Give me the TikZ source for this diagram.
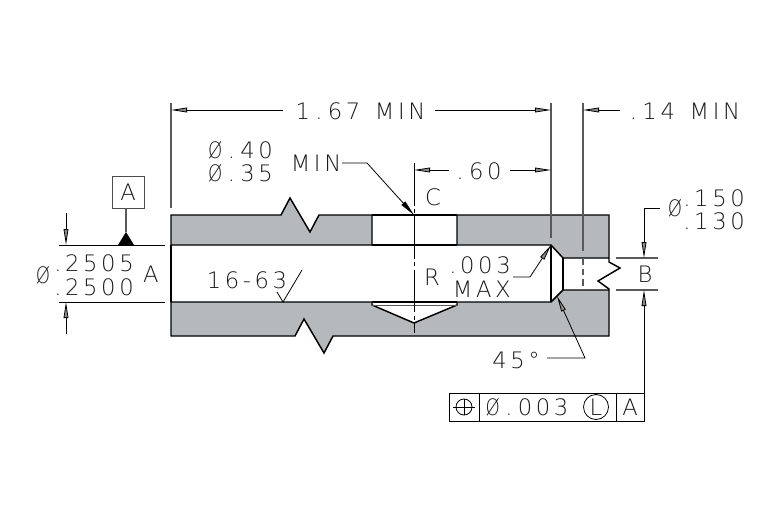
\documentclass[tikz,border=0pt]{standalone}
\usepackage{graphicx}
\usepackage{fontspec}
\setmainfont{Liberation Sans}
\newfontfamily\dimfont[LetterSpace=16]{DejaVu Sans ExtraLight}
\usetikzlibrary{arrows.meta}
\definecolor{partgray}{HTML}{B6B9BB}
\definecolor{inkgray}{HTML}{1A1A1A}
\newcommand{\Dt}{\kern4pt.\kern4pt}
\newcommand{\Dl}{.\kern4pt}
\newcommand{\Wg}{\kern11pt}
\newcommand{\Sl}{\scalebox{.8}[1]{Ø}}
\tikzset{
  x=0.75pt,y=-0.75pt,
  outline/.style={draw=black,line width=1.1pt,line join=miter},
  thin line/.style={draw=black,line width=0.6pt},
  ext line/.style={draw=black!65,line width=0.8pt},
  dimtip/.style={-{Triangle[open,length=12pt,width=3.6pt,fill=black!45]}},
  leadtip/.style={-{Triangle[length=12pt,width=3.8pt]}},
  label text/.style={inner sep=0pt,text=inkgray,font=\dimfont\fontsize{17}{17}\selectfont},
}
\begin{document}
\begin{tikzpicture}
\useasboundingbox (0,0) rectangle (780,520);
\fill[white] (0,0) rectangle (780,520);
% part sections
\path[outline,fill=partgray] (171,215)--(281,215)--(290,198)--(310,232)--(319,215)--(372,215)--(372,245)--(171,245)--cycle;
\path[outline,fill=partgray] (457,245)--(457,215)--(609,215)--(609,258)--(563,258)--(551,245)--cycle;
\path[outline,fill=partgray] (171,302)--(372,302)--(372,305)--(414,323)--(457,305)--(457,302)--(551,302)--(563,290)--(609,290)--(609,336)--(333,336)--(324,353)--(304,319)--(295,336)--(171,336)--cycle;
% hole walls and bore
\path[outline] (171,245)--(171,302);
\path[outline] (372,215)--(457,215);
\path[outline] (372,245)--(457,245);
\path[outline] (372,302)--(457,302);
\path[ext line,line width=0.5pt] (372,305)--(457,305);
\path[outline] (551,245)--(551,302);
\path[outline] (563,258)--(563,290);
\path[outline] (609,258)--(609,262)--(620,268)--(598,281)--(609,289)--(609,290);
% centre line
\path[thin line,dash pattern=on 32pt off 2.5pt on 3pt off 2.5pt] (414,163)--(414,333);
% extension lines
\path[ext line] (171,103)--(171,208);
\path[ext line] (551,103)--(551,238);
\path[ext line] (583,103)--(583,251);
\path[ext line,dashed,dash pattern=on 5pt off 3pt] (583,258)--(583,290);
\path[thin line] (59,245)--(165,245);
\path[thin line] (59,302)--(165,302);
\path[ext line] (616,258)--(658,258);
\path[ext line] (616,290)--(658,290);
% text
\node[label text] (t167) at (360.5,111) {1\Dt 67\Wg MIN};
\node[label text] (t14) at (685,111) {\Dl 14\Wg MIN};
\node[label text] (t60) at (479,171) {\Dl 60};
\node[label text] (tC) at (433,197) {C};
\node[label text] (tMIN) at (316,163) {MIN};
\node[label text] (t40) at (240.5,150) {\Sl\Dt 40};
\node[label text] (t35) at (240.5,173) {\Sl\Dt 35};
\node[label text] (tdia) at (675,208) {\Sl};
\node[label text,anchor=east] (t150) at (745,198) {.150};
\node[label text,anchor=east] (t130) at (745,221) {.130};
\node[label text] (tB) at (645,274) {B};
\node[label text] (tdiaA) at (43,275) {\Sl};
\node[label text,anchor=east] (t2505) at (134,263) {.2505};
\node[label text,anchor=east] (t2500) at (134,287) {.2500};
\node[label text] (tA) at (151,274) {A};
\node[label text] (tsurf) at (247,280) {16-63};
\node[label text] (tR) at (432,277) {R};
\node[label text,anchor=east] (t003) at (511,265) {.003};
\node[label text,anchor=east] (tMAX) at (511,289) {MAX};
\node[label text] (t45) at (516,360) {45°};
% dimension lines
\coordinate (d1) at (171,110); \coordinate (d2) at (551,110); \coordinate (d3) at (583,110);
\coordinate (c60) at (414,170); \coordinate (e60) at (551,170);
\draw[thin line,dimtip] (283,110)--(d1);
\draw[thin line,dimtip] (435,110)--(d2);
\draw[thin line,dimtip] (620,110)--(d3);
\draw[thin line,dimtip] (449,170)--(c60);
\draw[thin line,dimtip] (510,170)--(e60);
% leaders
\coordinate (holeEdge) at (414,215);
\draw[thin line,leadtip] (342,163)--(367,163)--(holeEdge);
\coordinate (rTip) at (551,245);
\draw[thin line,dimtip] (513,277)--(530,277)--(rTip);
\coordinate (chTip) at (557,296);
\draw[thin line,dimtip] (547,358)--(585,358)--(chTip);
% diameter dim on small hole
\coordinate (sm) at (644,258);
\draw[thin line,dimtip] (660,208)--(644,208)--(sm);
% left diameter arrows
\coordinate (lt) at (66,245); \coordinate (lb) at (66,302);
\draw[thin line,dimtip] (66,213)--(lt);
\draw[thin line,dimtip] (66,334)--(lb);
% datum A
\node[draw=black!70,line width=0.7pt,minimum width=32*0.75pt,minimum height=32*0.75pt,inner sep=0pt,text=inkgray,font=\dimfont\fontsize{17}{17}\selectfont] (datum) at (128,192) {A};
\coordinate (dfoot) at (126,232);
\draw[ext line] (126,208)--(dfoot);
\fill[black] (118,245)--(134,245)--(126,232)--cycle;
% surface mark
\draw[thin line] (277,292)--(283,302)--(302,270);
% feature control frame
\node[draw=black,line width=0.7pt,minimum width=195*0.75pt,minimum height=28*0.75pt,inner sep=0pt] (fcf) at (546.5,407) {};
\draw[thin line] (479,393)--(479,421);
\draw[thin line] (616,393)--(616,421);
\draw[thin line] (464,399)--(464,415) (453,407)--(475,407);
\draw[thin line] (464,407) circle [radius=8];
\draw[thin line] (596,407) circle [radius=12.5];
\node[label text] (tfcf) at (527,407.5) {\Sl\Dt 003};
\node[label text] (tL) at (596,407.5) {L};
\node[label text] (tFA) at (630,407.5) {A};
\coordinate (fcfTop) at (644,393); \coordinate (smb) at (644,290);
\draw[thin line,dimtip] (fcfTop)--(smb);
\end{tikzpicture}
\end{document}
